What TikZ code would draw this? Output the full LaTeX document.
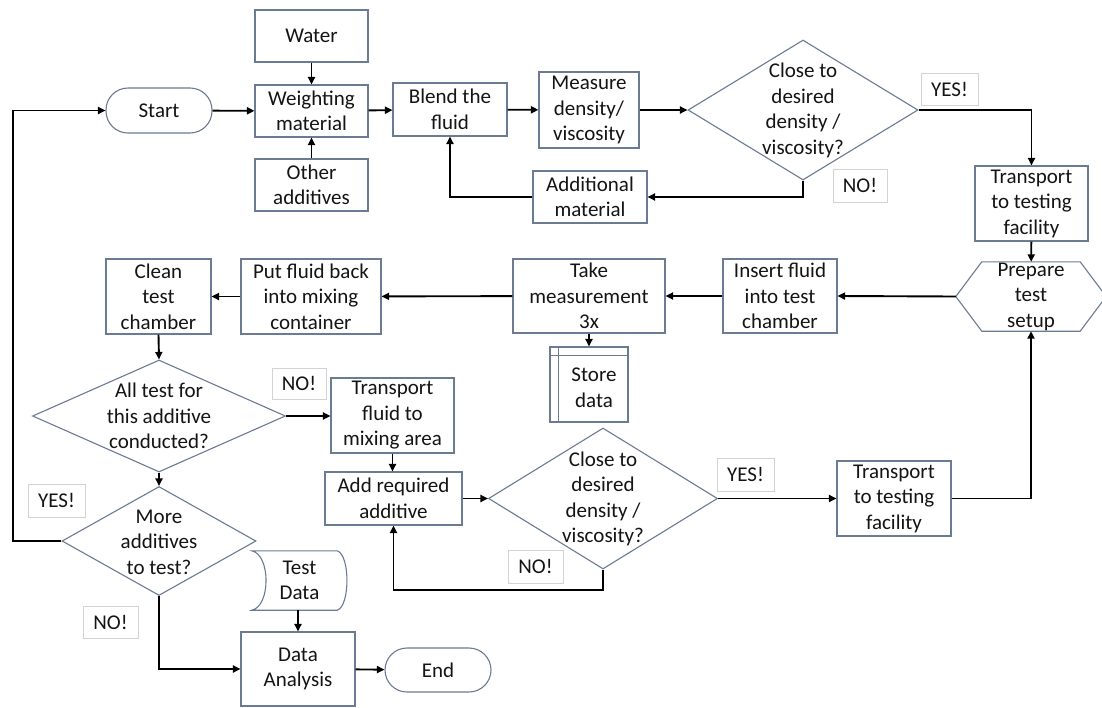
\documentclass[tikz,border=0pt]{standalone}
\usepackage{fontspec}
\setmainfont{Carlito}
\usetikzlibrary{shapes.geometric,arrows.meta}
\definecolor{edge}{HTML}{6B7B93}
\definecolor{lbl}{HTML}{D3D3D3}
\definecolor{ink}{HTML}{141414}
\begin{document}
\begin{tikzpicture}[x=1pt,y=-1pt,
  every node/.style={font=\fontsize{21}{25.5}\selectfont, text=ink, align=center, inner sep=0pt},
  sz/.style n args={2}{minimum width=#1, minimum height=#2},
  box/.style={draw=edge, line width=1.1pt, rectangle},
  term/.style={draw=edge, line width=1.1pt, rectangle, rounded corners=22pt},
  plain/.style={rectangle},
  dia/.style={draw=edge, line width=1.1pt, diamond},
  lab/.style={draw=lbl, line width=1pt, rectangle},
  outline/.style={draw=edge, line width=1.1pt},
  conn/.style={draw=black, line width=1.9pt, -{Triangle[length=7.5pt,width=7pt]}},
  line/.style={draw=black, line width=1.9pt}
]
\fill[white] (0,0) rectangle (1102,707);
\useasboundingbox (0,0) rectangle (1102,707);

% top row
\node[box, sz={113}{52}] (water) at (311.5,36) {Water};
\node[box, sz={113}{52}] (weight) at (311.5,111) {Weighting\\material};
\node[box, sz={113}{52}] (other) at (311.5,185) {Other\\additives};
\node[term, sz={106}{45}] (start) at (159,110.5) {Start};
\node[box, sz={114}{53}] (blend) at (450,109.5) {Blend the\\fluid};
\node[box, sz={100}{76}] (measure) at (589,110) {Measure\\density/\\viscosity};
\node[box, sz={114}{52}] (addmat) at (590,197) {Additional\\material};
\node[dia, sz={230}{140}] (dia1) at (803,110) {};
\node (dia1t) at (803,110.5) {Close to\\desired\\density /\\viscosity?};
\node[lab, sz={57}{32}] (yes1) at (949.5,89) {YES!};
\node[lab, sz={54}{33}] (no1) at (860,185.5) {NO!};
\node[box, sz={113}{75}] (trans1) at (1031.5,203.5) {Transport\\to testing\\facility};

% middle row
\node[plain, sz={150}{69}] (hex) at (1031,296.5) {Prepare\\test\\setup};
\draw[outline] (hex.west) -- ([xshift=26pt]hex.north west) -- ([xshift=-26pt]hex.north east)
  -- (hex.east) -- ([xshift=-26pt]hex.south east) -- ([xshift=26pt]hex.south west) -- cycle;
\node[box, sz={114}{74}] (insert) at (780,296) {Insert fluid\\into test\\chamber};
\node[box, sz={152}{74}] (take) at (589,296) {Take\\measurement\\3x};
\node[box, sz={78}{75}] (store) at (589,384.5) {};
\node (storet) at (594,388) {Store\\data};
\draw[outline] ([xshift=9pt]store.north west) -- ([xshift=9pt]store.south west);
\draw[outline] ([yshift=-9pt]store.north west) -- ([yshift=-9pt]store.north east);
\node[box, sz={140}{75}] (put) at (311,296.5) {Put fluid back\\into mixing\\container};
\node[box, sz={105}{75}] (clean) at (158.5,296.5) {Clean\\test\\chamber};

% lower part
\node[dia, sz={253}{112}] (dia2) at (159,416) {};
\node (dia2t) at (159,416) {All test for\\this additive\\conducted?};
\node[lab, sz={54}{31}] (no2) at (299,383.5) {NO!};
\node[box, sz={123}{75}] (transfluid) at (392.5,415.5) {Transport\\fluid to\\mixing area};
\node[box, sz={137}{53}] (add) at (393.5,498.5) {Add required\\additive};
\node[dia, sz={229}{141}] (dia3) at (603,498.5) {};
\node (dia3t) at (603,499) {Close to\\desired\\density /\\viscosity?};
\node[lab, sz={55}{33}] (no3) at (535.5,566.5) {NO!};
\node[lab, sz={57}{33}] (yes3) at (745.5,474.5) {YES!};
\node[box, sz={114}{75}] (trans2) at (894,498.5) {Transport\\to testing\\facility};
\node[dia, sz={194}{109}] (dia4) at (159,541) {};
\node (dia4t) at (159,542) {More\\additives\\to test?};
\node[lab, sz={57}{33}] (yes4) at (56.5,500.5) {YES!};
\node[lab, sz={55}{32}] (no4) at (110.5,622) {NO!};
\node[plain, sz={95}{59}] (testdata) at (299.5,580.5) {Test\\Data};
\draw[outline] (testdata.north west) -- ([xshift=-10pt]testdata.north east)
  .. controls ([xshift=3pt,yshift=-4pt]testdata.north east) and ([xshift=3pt,yshift=4pt]testdata.south east) .. ([xshift=-10pt]testdata.south east)
  -- (testdata.south west)
  .. controls ([xshift=19pt,yshift=4pt]testdata.south west) and ([xshift=19pt,yshift=-4pt]testdata.north west) .. (testdata.north west) -- cycle;
\node[box, sz={114}{74}] (analysis) at (298,669) {Data\\Analysis};
\node[term, sz={106}{44}] (end) at (438,670) {End};

\coordinate (lc) at (13,541);

% connectors
\draw[conn] (water) -- (weight);
\draw[conn] (other) -- (weight);
\draw[conn] (start) -- (weight);
\draw[conn] (weight) -- (blend);
\draw[conn] (blend) -- (measure);
\draw[conn] (measure) -- (dia1.west);
\draw[conn] (dia1.south) |- (addmat.east);
\draw[conn] (addmat.west) -| (blend.south);
\draw[conn] (dia1.east) -| (trans1.north);
\draw[conn] (trans1) -- (hex);
\draw[conn] (hex.west) -- (insert.east);
\draw[conn] (insert) -- (take);
\draw[conn] (take) -- (store);
\draw[conn] (take) -- (put);
\draw[conn] (put) -- (clean);
\draw[conn] (clean.south) -- (dia2.north);
\draw[conn] (dia2.east) -- (transfluid.west |- dia2.east);
\draw[conn] (transfluid.south) -- (transfluid.south |- add.north);
\draw[conn] (add.east) -- (dia3.west);
\draw[conn] (dia3.south) -- ++(0,20) -| (add.south);
\draw[conn] (dia3.east) -- (trans2.west);
\draw[conn] (trans2.east) -| (hex.south);
\draw[conn] (dia2.south) -- (dia4.north);
\draw[conn] (dia4.west) -- (lc) |- (start.west);
\draw[conn] (dia4.south) |- (analysis.west);
\draw[conn] (testdata.south -| analysis.north) -- (analysis.north);
\draw[conn] (analysis) -- (end);
\end{tikzpicture}
\end{document}
